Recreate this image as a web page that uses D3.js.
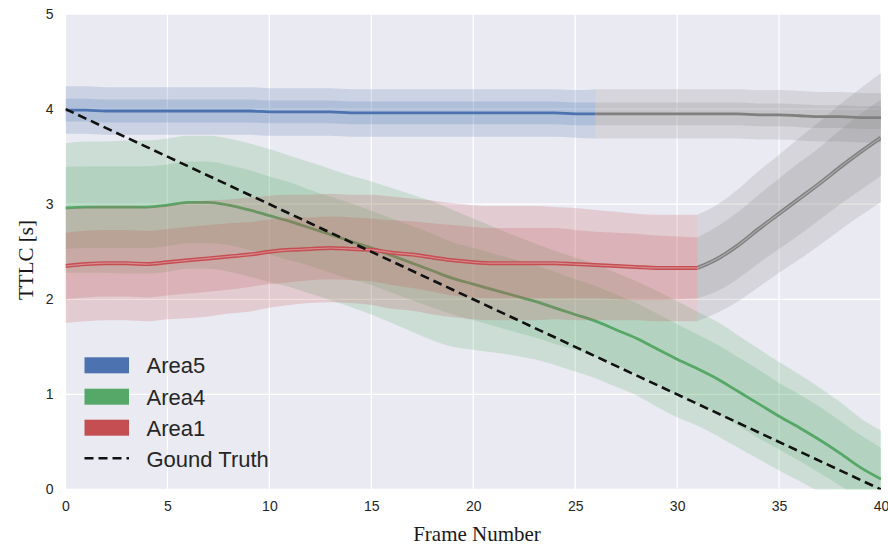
<!DOCTYPE html>
<html>
<head>
<meta charset="utf-8">
<script src="https://cdn.jsdelivr.net/npm/d3@7"></script>
<style>
  body { margin: 0; background: #fff; }
  .tick text { font-family: "Liberation Sans", Arial, sans-serif; font-size: 14px; fill: #262626; }
  .axlabel { font-family: "Liberation Serif", "Times New Roman", serif; font-size: 21px; fill: #1a1a1a; }
  .legend text { font-family: "Liberation Sans", Arial, sans-serif; font-size: 22px; fill: #262626; }
</style>
</head>
<body>
<script>
// frame index 0..40
var frames = d3.range(0, 41);
var xTicks = [0, 5, 10, 15, 20, 25, 30, 35, 40];
var yTicks = [0, 1, 2, 3, 4, 5];

// Area5 (blue until frame 26, grey after)
var area5Mean = [3.99,3.99,3.98,3.98,3.98,3.98,3.98,3.98,3.98,3.98,3.97,3.97,3.97,3.97,3.96,3.96,3.96,3.96,3.96,3.96,3.96,3.96,3.96,3.96,3.96,3.95,3.95,3.95,3.95,3.95,3.95,3.95,3.95,3.95,3.94,3.94,3.93,3.92,3.92,3.91,3.91];
var area5Inner = [0.12,0.12,0.12,0.12,0.12,0.12,0.12,0.12,0.12,0.12,0.12,0.12,0.12,0.12,0.12,0.12,0.12,0.12,0.12,0.12,0.12,0.12,0.12,0.12,0.12,0.12,0.12,0.12,0.12,0.12,0.12,0.12,0.12,0.12,0.12,0.12,0.12,0.12,0.12,0.12,0.12];
var area5Outer = [0.25,0.25,0.25,0.25,0.25,0.25,0.25,0.25,0.25,0.25,0.25,0.25,0.25,0.25,0.25,0.25,0.25,0.25,0.25,0.25,0.25,0.25,0.25,0.25,0.25,0.25,0.26,0.26,0.26,0.26,0.26,0.26,0.26,0.26,0.26,0.26,0.26,0.26,0.26,0.26,0.26];
var area5End = 26;

// Area4 (green, full range)
var area4Mean = [2.96,2.97,2.97,2.97,2.97,2.99,3.02,3.02,2.99,2.94,2.88,2.82,2.75,2.68,2.61,2.54,2.46,2.38,2.30,2.22,2.16,2.10,2.04,1.98,1.91,1.84,1.77,1.68,1.59,1.48,1.37,1.27,1.16,1.03,0.90,0.77,0.65,0.52,0.38,0.23,0.11];
var area4Inner = [0.43,0.43,0.43,0.43,0.43,0.43,0.43,0.43,0.42,0.42,0.41,0.41,0.40,0.40,0.40,0.39,0.39,0.39,0.39,0.38,0.38,0.38,0.38,0.38,0.38,0.37,0.37,0.37,0.37,0.37,0.37,0.36,0.36,0.36,0.36,0.35,0.35,0.35,0.34,0.34,0.33];
var area4Outer = [0.68,0.69,0.69,0.70,0.70,0.70,0.70,0.70,0.70,0.70,0.70,0.69,0.69,0.69,0.69,0.70,0.71,0.72,0.73,0.72,0.69,0.66,0.63,0.61,0.60,0.60,0.60,0.60,0.60,0.61,0.61,0.60,0.60,0.59,0.58,0.57,0.56,0.55,0.54,0.52,0.51];

// Area1 (red until frame 31, grey after)
var area1Mean = [2.35,2.37,2.38,2.38,2.37,2.39,2.41,2.43,2.45,2.47,2.50,2.52,2.53,2.54,2.53,2.52,2.49,2.47,2.44,2.41,2.39,2.38,2.38,2.38,2.38,2.37,2.36,2.35,2.34,2.33,2.33,2.33,2.43,2.57,2.74,2.90,3.06,3.22,3.39,3.55,3.70];
var area1Inner = [0.35,0.35,0.35,0.35,0.35,0.35,0.35,0.35,0.35,0.34,0.34,0.34,0.33,0.33,0.33,0.33,0.34,0.35,0.36,0.37,0.37,0.37,0.37,0.37,0.37,0.36,0.35,0.35,0.35,0.34,0.33,0.32,0.34,0.35,0.36,0.37,0.38,0.38,0.39,0.40,0.40];
var area1Outer = [0.60,0.60,0.60,0.60,0.60,0.60,0.61,0.61,0.60,0.60,0.59,0.58,0.57,0.57,0.57,0.58,0.59,0.59,0.60,0.60,0.60,0.60,0.60,0.60,0.59,0.59,0.58,0.57,0.56,0.56,0.56,0.56,0.57,0.59,0.61,0.62,0.64,0.65,0.66,0.67,0.68];
var area1End = 31;

// ground truth
var truthFrames = [0, 40];
var truthValues = [4, 0];

var legendNames = ["Area5", "Area4", "Area1", "Gound Truth"];

var W = 888, H = 546;
var margin = {left: 65.5, right: 7, top: 14, bottom: 56.5};

var svg = d3.select("body").append("svg")
  .attr("width", W).attr("height", H);

var x = d3.scaleLinear().domain([0, 40]).range([margin.left, W - margin.right]);
var y = d3.scaleLinear().domain([0, 5]).range([H - margin.bottom, margin.top]);

svg.append("defs").append("clipPath").attr("id", "plotclip")
  .append("rect")
  .attr("x", x(0)).attr("y", y(5))
  .attr("width", x(40) - x(0)).attr("height", y(0) - y(5));

svg.append("rect")
  .attr("x", x(0)).attr("y", y(5))
  .attr("width", x(40) - x(0)).attr("height", y(0) - y(5))
  .attr("fill", "#EAEAF2");

// grid
svg.append("g").selectAll("line").data(xTicks).enter().append("line")
  .attr("x1", function(d) { return x(d); }).attr("x2", function(d) { return x(d); })
  .attr("y1", y(0)).attr("y2", y(5))
  .attr("stroke", "#fff").attr("stroke-width", 1.3);
svg.append("g").selectAll("line").data(yTicks).enter().append("line")
  .attr("y1", function(d) { return y(d); }).attr("y2", function(d) { return y(d); })
  .attr("x1", x(0)).attr("x2", x(40))
  .attr("stroke", "#fff").attr("stroke-width", 1.3);

// axes
var xAxis = svg.append("g").attr("transform", "translate(0," + y(0) + ")")
  .call(d3.axisBottom(x).tickValues(xTicks).tickFormat(d3.format("d")).tickSize(0).tickPadding(12));
var yAxis = svg.append("g").attr("transform", "translate(" + x(0) + ",0)")
  .call(d3.axisLeft(y).tickValues(yTicks).tickFormat(d3.format("d")).tickSize(0).tickPadding(12));
xAxis.select(".domain").remove();
yAxis.select(".domain").remove();

svg.append("text").attr("class", "axlabel")
  .attr("x", 477).attr("y", 541)
  .attr("text-anchor", "middle").text("Frame Number");
svg.append("text").attr("class", "axlabel")
  .attr("transform", "translate(33,260) rotate(-90)")
  .attr("text-anchor", "middle").text("TTLC [s]");

var plot = svg.append("g").attr("clip-path", "url(#plotclip)");

function band(mean, half, from, to) {
  var idx = d3.range(from, to + 1);
  return d3.area()
    .curve(d3.curveMonotoneX)
    .x(function(i) { return x(frames[i]); })
    .y0(function(i) { return y(mean[i] - half[i]); })
    .y1(function(i) { return y(mean[i] + half[i]); })(idx);
}
function lineOf(mean, from, to) {
  var idx = d3.range(from, to + 1);
  return d3.line()
    .curve(d3.curveMonotoneX)
    .x(function(i) { return x(frames[i]); })
    .y(function(i) { return y(mean[i]); })(idx);
}

function series(mean, inner, outer, from, to, color, doubled) {
  plot.append("path").attr("d", band(mean, outer, from, to))
    .attr("fill", color).attr("fill-opacity", 0.2);
  plot.append("path").attr("d", band(mean, inner, from, to))
    .attr("fill", color).attr("fill-opacity", 0.2);
  plot.append("path").attr("d", lineOf(mean, from, to))
    .attr("fill", "none").attr("stroke", color)
    .attr("stroke-width", doubled ? 4 : 2.8).attr("stroke-linejoin", "round");
  if (doubled) {
    plot.append("path").attr("d", lineOf(mean, from, to))
      .attr("fill", "none").attr("stroke", "#fff").attr("stroke-opacity", 0.35)
      .attr("stroke-width", 1.1);
  }
}

var blue = "#4C72B0", green = "#55A868", red = "#C44E52", grey = "#808080";

series(area5Mean, area5Inner, area5Outer, 0, area5End, blue, false);
series(area5Mean, area5Inner, area5Outer, area5End, 40, grey, false);
series(area4Mean, area4Inner, area4Outer, 0, 40, green, false);
series(area1Mean, area1Inner, area1Outer, 0, area1End, red, true);
series(area1Mean, area1Inner, area1Outer, area1End, 40, grey, true);

plot.append("path")
  .attr("d", d3.line()
    .x(function(d, i) { return x(truthFrames[i]); })
    .y(function(d) { return y(d); })(truthValues))
  .attr("fill", "none").attr("stroke", "#111")
  .attr("stroke-width", 2.6).attr("stroke-dasharray", "9,5");

// legend
var legend = svg.append("g").attr("class", "legend");
var legColors = [blue, green, red];
var legBase = [373.3, 404.7, 435.7, 466.7];
legendNames.forEach(function(name, i) {
  if (i < 3) {
    legend.append("rect")
      .attr("x", 84.5).attr("y", legBase[i] - 16)
      .attr("width", 44.5).attr("height", 16)
      .attr("fill", legColors[i]);
  } else {
    legend.append("line")
      .attr("x1", 84.5).attr("x2", 129)
      .attr("y1", legBase[i] - 8.4).attr("y2", legBase[i] - 8.4)
      .attr("stroke", "#111").attr("stroke-width", 2.6)
      .attr("stroke-dasharray", "9,5");
  }
  legend.append("text")
    .attr("x", 146.5).attr("y", legBase[i])
    .text(name);
});
</script>
</body>
</html>
